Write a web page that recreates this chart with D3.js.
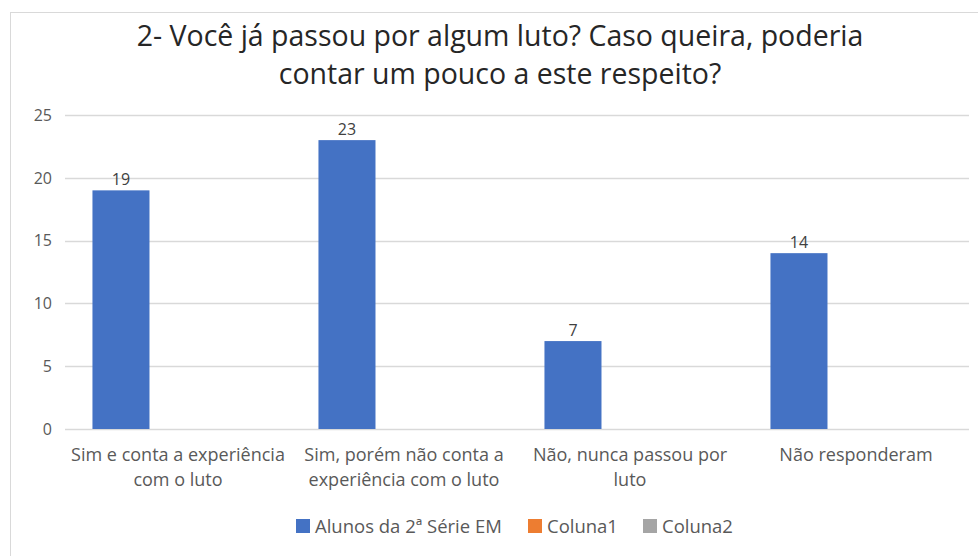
<!DOCTYPE html>
<html>
<head>
<meta charset="utf-8">
<script src="https://cdn.jsdelivr.net/npm/d3@7"></script>
<style>
  body { margin: 0; background: #fff; }
  svg { display: block; font-family: "Open Sans", sans-serif; }
</style>
</head>
<body>
<div id="chart"></div>
<script>
const width = 978, height = 556;

// dados
const titleLines = ["2- Você já passou por algum luto? Caso queira, poderia", "contar um pouco a este respeito?"];
const categories = ["Sim e conta a experiência com o luto", "Sim, porém não conta a experiência com o luto", "Não, nunca passou por luto", "Não responderam"];
const categoryLines = [
    ["Sim e conta a experiência", "com o luto"],
    ["Sim, porém não conta a", "experiência com o luto"],
    ["Não, nunca passou por", "luto"],
    ["Não responderam"]
];
const seriesNames = ["Alunos da 2ª Série EM", "Coluna1", "Coluna2"];
const alunos = [19, 23, 7, 14];
const coluna1 = [null, null, null, null];
const coluna2 = [null, null, null, null];
const yTicks = [0, 5, 10, 15, 20, 25];
const colors = ["#4472C4", "#ED7D31", "#A5A5A5"];

const seriesValues = [alunos, coluna1, coluna2];

const margin = { top: 115, right: 9, bottom: 127, left: 65 };

const svg = d3.select("#chart").append("svg")
    .attr("width", width).attr("height", height);

// ajusta o tamanho da fonte para que o texto tenha a largura medida no original
function fitFont(sel, target) {
    const node = sel.node();
    const w = node.getComputedTextLength();
    const f = parseFloat(getComputedStyle(node).fontSize);
    return f * target / w;
}

// borda do gráfico
svg.append("rect")
    .attr("x", 10.5).attr("y", 12.5)
    .attr("width", 1000).attr("height", 1000)
    .attr("fill", "none").attr("stroke", "#d9d9d9");

// título
const title = svg.append("g").attr("fill", "#262626");
titleLines.forEach((t, i) => {
    title.append("text")
        .attr("x", 500).attr("y", 46 + i * 38)
        .attr("text-anchor", "middle")
        .attr("font-size", 25)
        .text(t);
});
title.selectAll("text").attr("font-size", fitFont(title.select("text"), 727));

const x = d3.scaleBand()
    .domain(categories)
    .range([margin.left, width - margin.right])
    .paddingInner(0.243).paddingOuter(0.1215);

const xs = d3.scaleBand()
    .domain(seriesNames)
    .range([0, x.bandwidth()]);

const y = d3.scaleLinear()
    .domain([0, 25])
    .range([height - margin.bottom, margin.top]);

// grade
svg.append("g")
    .selectAll("line")
    .data(yTicks)
    .join("line")
    .attr("x1", margin.left).attr("x2", width - margin.right)
    .attr("y1", d => Math.round(y(d)) + 0.5).attr("y2", d => Math.round(y(d)) + 0.5)
    .attr("stroke", "#d9d9d9").attr("stroke-width", 1.3);

// eixo y
svg.append("g")
    .selectAll("text")
    .data(yTicks)
    .join("text")
    .attr("x", 52).attr("y", d => y(d))
    .attr("dy", "0.36em")
    .attr("text-anchor", "end")
    .attr("font-size", 16)
    .attr("fill", "#595959")
    .text(d => d);

// barras
const groups = svg.append("g")
    .selectAll("g")
    .data(seriesNames.map((s, i) => ({ name: s, color: colors[i], values: seriesValues[i] })))
    .join("g")
    .attr("fill", d => d.color);

groups.selectAll("rect")
    .data(d => d.values.map((v, j) => ({ series: d.name, cat: categories[j], v })).filter(e => e.v != null))
    .join("rect")
    .attr("x", d => x(d.cat) + xs(d.series))
    .attr("width", xs.bandwidth())
    .attr("y", d => y(d.v))
    .attr("height", d => y(0) - y(d.v));

// rótulos de dados
groups.selectAll("text")
    .data(d => d.values.map((v, j) => ({ series: d.name, cat: categories[j], v })).filter(e => e.v != null))
    .join("text")
    .attr("x", d => x(d.cat) + xs(d.series) + xs.bandwidth() / 2)
    .attr("y", d => y(d.v) - 5)
    .attr("text-anchor", "middle")
    .attr("font-size", 16)
    .attr("fill", "#404040")
    .text(d => d.v);

// rótulos das categorias
const catLabels = svg.append("g")
    .selectAll("text")
    .data(categories)
    .join("text")
    .attr("text-anchor", "middle")
    .attr("font-size", 15)
    .attr("fill", "#595959");
catLabels.each(function(d, i) {
    const cx = x(d) - x.step() * x.paddingInner() / 2 + x.step() / 2;
    d3.select(this).selectAll("tspan")
        .data(categoryLines[i])
        .join("tspan")
        .attr("x", cx)
        .attr("y", (t, k) => 461 + k * 25)
        .text(t => t);
});
const probe = svg.append("text").attr("font-size", 15).text(categoryLines[0][0]);
catLabels.attr("font-size", fitFont(probe, 214));
probe.remove();

// legenda
const legend = svg.append("g").attr("font-size", 15).attr("fill", "#595959");
const legendX = [296, 528, 643];
seriesNames.forEach((s, i) => {
    legend.append("rect")
        .attr("x", legendX[i]).attr("y", 519)
        .attr("width", 14).attr("height", 14)
        .attr("fill", colors[i]);
    legend.append("text")
        .attr("x", legendX[i] + 19).attr("y", 526)
        .attr("dy", "0.36em")
        .text(s);
});
legend.attr("font-size", fitFont(legend.select("text"), 187));
</script>
</body>
</html>
